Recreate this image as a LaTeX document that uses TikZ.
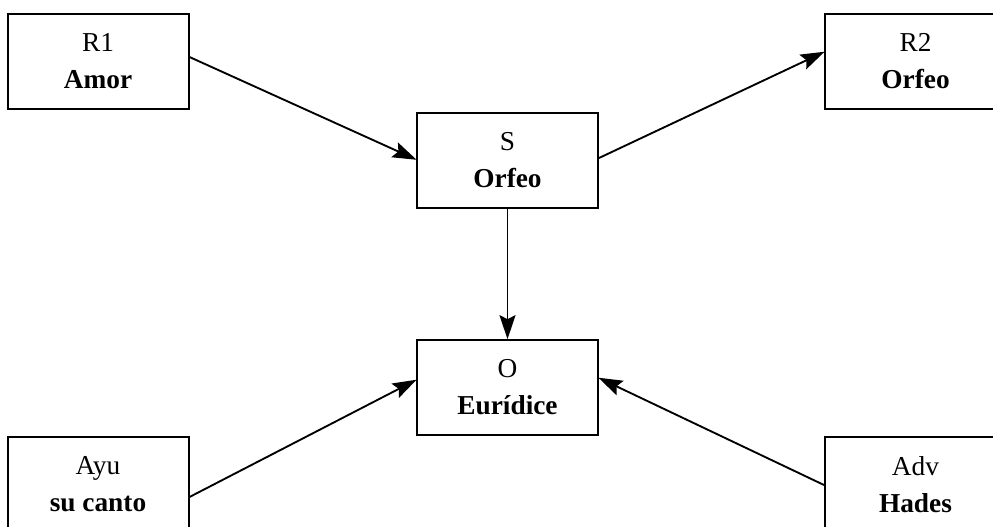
\documentclass[tikz,border=0pt]{standalone}
\usepackage{fontspec}
\setmainfont{Liberation Serif}
\usetikzlibrary{arrows.meta,calc}
\begin{document}
\begin{tikzpicture}[x=0.75pt,y=-0.75pt,
  box/.style={draw,line width=1.5pt,minimum width=181*0.75pt,minimum height=95*0.75pt,
    inner sep=0pt,align=center,font=\fontsize{20.5}{27.75}\selectfont},
  conn/.style={line width=1.4pt,-{Stealth[length=18pt,width=12pt,inset=3pt]},shorten >=-0.5pt}]
\useasboundingbox (0,0) rectangle (993,526);
\clip (0,0) rectangle (993,526);
\node[box] (R1) at (98,61.5) {R1\\\textbf{Amor}};
\node[box] (R2) at (915.5,61.5) {R2\\\textbf{Orfeo}};
\node[box] (S) at (507.5,160.5) {S\\\textbf{Orfeo}};
\node[box] (O) at (507.5,387) {O\\\textbf{Eurídice}};
\node[box] (Ayu) at (98,484.5) {Ayu\\\textbf{su canto}};
\node[box] (Adv) at (915.5,484.5) {Adv\\\textbf{Hades}};
\draw[conn] ($(R1.east)+(0,-4.5)$) -- ($(S.west)+(0,-1)$);
\draw[conn] ($(S.east)+(0,-2.5)$) -- ($(R2.west)+(0,-9.5)$);
\draw[conn] (S.south) -- (O.north);
\draw[conn] ($(Ayu.east)+(0,12.5)$) -- ($(O.west)+(0,-7)$);
\draw[conn] ($(Adv.west)+(0,0.5)$) -- ($(O.east)+(0,-9)$);
\end{tikzpicture}
\end{document}
